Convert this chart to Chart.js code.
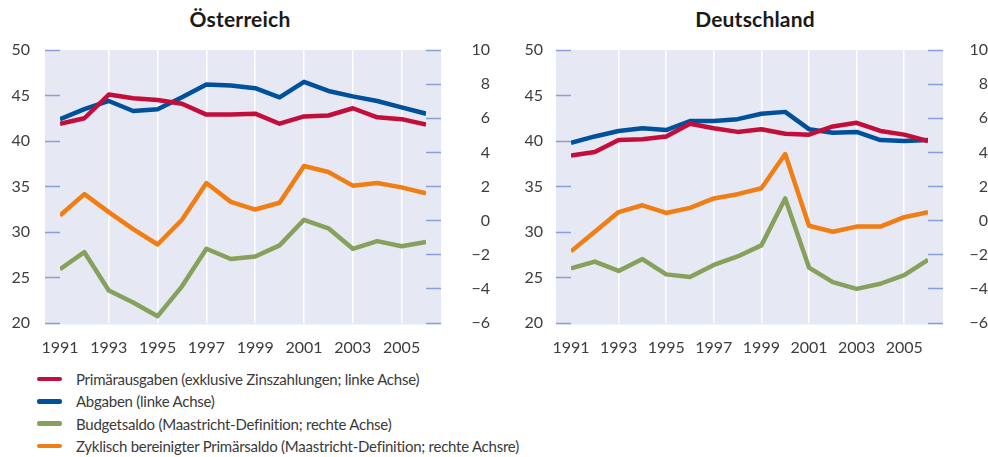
<!DOCTYPE html>
<html>
<head>
<meta charset="utf-8">
<script src="https://cdn.jsdelivr.net/npm/chart.js@4.4.1/dist/chart.umd.min.js"></script>
<style>
  html, body { margin: 0; padding: 0; background: #ffffff; }
  body { width: 988px; height: 457px; position: relative; overflow: hidden; font-family: Lato, "Open Sans", sans-serif; color: #333; }
  canvas { position: absolute; top: 0; }
  .title { position: absolute; top: 6px; font-weight: bold; font-size: 21px; letter-spacing: 0.2px; color: #1a1a1a; transform: translateX(-50%); white-space: nowrap; }
  .legend { position: absolute; left: 37px; top: 368px; }
  .row { height: 22.3px; display: flex; align-items: center; font-size: 15px; letter-spacing: -0.25px; color: #3a3a3a; white-space: nowrap; }
  .sw { width: 25px; height: 4.5px; border-radius: 2px; margin-right: 14px; }
</style>
</head>
<body>
<div class="title" style="left:240px">Österreich</div>
<div class="title" style="left:755px">Deutschland</div>
<canvas id="c1" width="490" height="360" style="left:0"></canvas>
<canvas id="c2" width="498" height="360" style="left:490px"></canvas>
<div class="legend" id="legend"></div>
<script>
// ---------- data ----------
const years = [1991,1992,1993,1994,1995,1996,1997,1998,1999,2000,2001,2002,2003,2004,2005,2006];
const xTickYears = [1991,1993,1995,1997,1999,2001,2003,2005];
const leftTicks = [20,25,30,35,40,45,50];
const rightTicks = [-6,-4,-2,0,2,4,6,8,10];

const seriesNames = [
  'Primärausgaben (exklusive Zinszahlungen; linke Achse)',
  'Abgaben (linke Achse)',
  'Budgetsaldo (Maastricht-Definition; rechte Achse)',
  'Zyklisch bereinigter Primärsaldo (Maastricht-Definition; rechte Achsre)'
];

// Österreich
const atPrimaer = [41.9,42.5,45.1,44.7,44.5,44.1,42.9,42.9,43.0,41.9,42.7,42.8,43.6,42.6,42.4,41.8];
const atAbgaben = [42.4,43.5,44.4,43.3,43.5,44.8,46.2,46.1,45.8,44.8,46.5,45.5,44.9,44.4,43.7,43.0];
const atBudget  = [-2.85,-1.85,-4.1,-4.8,-5.6,-3.85,-1.65,-2.25,-2.1,-1.45,0.05,-0.45,-1.65,-1.2,-1.5,-1.25];
const atZykl    = [0.3,1.55,0.5,-0.5,-1.4,0.05,2.2,1.1,0.65,1.05,3.2,2.85,2.05,2.2,1.95,1.6];

// Deutschland
const dePrimaer = [38.4,38.8,40.1,40.2,40.5,41.9,41.4,41.0,41.3,40.8,40.7,41.6,42.0,41.1,40.7,40.0];
const deAbgaben = [39.8,40.5,41.1,41.4,41.2,42.2,42.2,42.4,43.0,43.2,41.3,40.9,41.0,40.1,40.0,40.1];
const deBudget  = [-2.8,-2.4,-2.95,-2.25,-3.15,-3.3,-2.6,-2.1,-1.45,1.3,-2.75,-3.6,-4.0,-3.7,-3.2,-2.3];
const deZykl    = [-1.8,-0.65,0.5,0.9,0.45,0.75,1.3,1.55,1.9,3.9,-0.3,-0.65,-0.35,-0.35,0.2,0.5];

const colors = ['#c30d3a', '#00519c', '#87a05b', '#f07e14'];

// ---------- helpers ----------
const FONT = 'Lato, "Open Sans", sans-serif';
const TICK_LEN = 15;
const BG = '#e6e9f3';
const TICK_COLOR = '#8a9fd6';

const bgPlugin = {
  id: 'plotBg',
  beforeDraw(chart) {
    const a = chart.chartArea, ctx = chart.ctx;
    ctx.save();
    ctx.fillStyle = BG;
    ctx.fillRect(a.left - TICK_LEN, a.top, (a.right - a.left) + 2 * TICK_LEN, (a.bottom - a.top) + 1.5);
    ctx.restore();
  }
};

function fmtRight(v) { return v < 0 ? '\u2212' + Math.abs(v) : String(v); }

function makeChart(id, data, geom) {
  const ds = data.map((vals, i) => ({
    label: seriesNames[i],
    data: years.map((y, j) => ({ x: y, y: vals[j] })),
    borderColor: colors[i],
    backgroundColor: colors[i],
    borderWidth: 4.5,
    pointRadius: 0,
    tension: 0,
    fill: false,
    borderJoinStyle: 'round',
    yAxisID: i < 2 ? 'yL' : 'yR'
  }));
  return new Chart(document.getElementById(id), {
    type: 'line',
    data: { datasets: ds },
    options: {
      responsive: false,
      animation: false,
      events: [],
      layout: { padding: { top: 50, left: 0, right: 0, bottom: 0 } },
      plugins: { legend: { display: false }, tooltip: { enabled: false }, title: { display: false } },
      scales: {
        x: {
          type: 'linear',
          min: years[0], max: years[years.length - 1],
          afterBuildTicks: s => { s.ticks = xTickYears.map(v => ({ value: v })); },
          afterFit: s => { s.height = geom.xH; },
          border: { display: false },
          grid: {
            drawTicks: false,
            lineWidth: 1.5,
            color: c => (c.tick && c.tick.value === xTickYears[0]) ? 'rgba(0,0,0,0)' : '#ffffff'
          },
          ticks: {
            padding: 15,
            color: '#3d3d3d',
            font: { family: FONT, size: 16 },
            maxRotation: 0,
            autoSkip: false,
            callback: v => String(v)
          }
        },
        yL: {
          type: 'linear', position: 'left',
          min: leftTicks[0], max: leftTicks[leftTicks.length - 1],
          afterBuildTicks: s => { s.ticks = leftTicks.map(v => ({ value: v })); },
          afterFit: s => { s.width = geom.lW; },
          border: { display: false },
          grid: { drawOnChartArea: false, drawTicks: true, tickLength: TICK_LEN, tickColor: TICK_COLOR, tickWidth: 1.5 },
          ticks: { padding: geom.lP, color: '#3d3d3d', font: { family: FONT, size: 16 } }
        },
        yR: {
          type: 'linear', position: 'right',
          min: rightTicks[0], max: rightTicks[rightTicks.length - 1],
          afterBuildTicks: s => { s.ticks = rightTicks.map(v => ({ value: v })); },
          afterFit: s => { s.width = geom.rW; },
          border: { display: false },
          grid: { drawOnChartArea: false, drawTicks: true, tickLength: TICK_LEN, tickColor: TICK_COLOR, tickWidth: 1.5 },
          ticks: { padding: geom.rP, crossAlign: 'far', color: '#3d3d3d', font: { family: FONT, size: 16 }, callback: fmtRight }
        }
      }
    },
    plugins: [bgPlugin]
  });
}

makeChart('c1', [atPrimaer, atAbgaben, atBudget, atZykl], { lW: 60, rW: 64, lP: 15, rP: 12, xH: 37 });
makeChart('c2', [dePrimaer, deAbgaben, deBudget, deZykl], { lW: 81, rW: 60, lP: 13, rP: 15, xH: 37 });

// legend
const lg = document.getElementById('legend');
seriesNames.forEach((n, i) => {
  const r = document.createElement('div');
  r.className = 'row';
  const sw = document.createElement('div');
  sw.className = 'sw';
  sw.style.background = colors[i];
  const t = document.createElement('span');
  t.textContent = n;
  r.appendChild(sw); r.appendChild(t);
  lg.appendChild(r);
});
</script>
</body>
</html>
